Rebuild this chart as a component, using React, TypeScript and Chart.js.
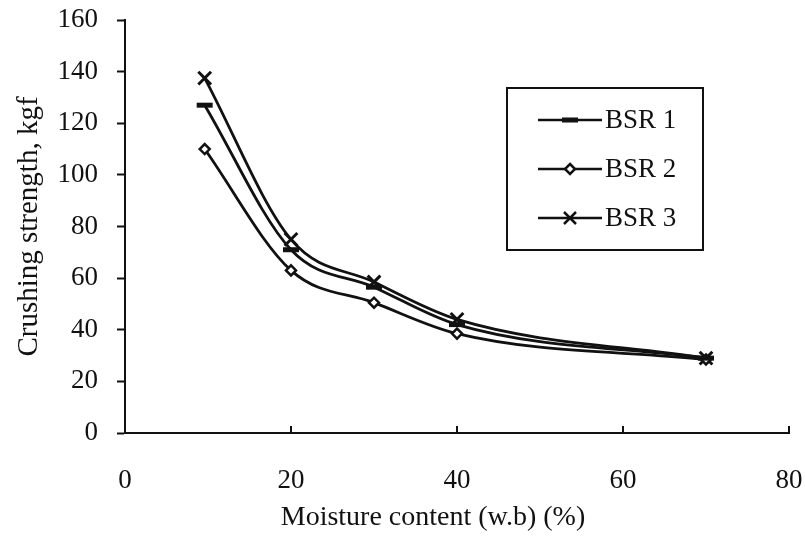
import React, { useEffect, useRef } from 'react';
import { Chart, registerables } from 'chart.js';

Chart.register(...registerables);

const FONT = '"Liberation Serif", "Times New Roman", Times, serif';
const INK = '#111111';

const moisture = [9.6, 20, 30, 40, 70];
const bsr1 = [127, 71, 56.5, 42, 29];
const bsr2 = [110, 63, 50.5, 38.5, 28.5];
const bsr3 = [137.5, 75, 58.5, 44, 29];
const seriesLabels = ['BSR 1', 'BSR 2', 'BSR 3'];
const xTicks = [0, 20, 40, 60, 80];
const yTicks = [0, 20, 40, 60, 80, 100, 120, 140, 160];
const xTitle = 'Moisture content (w.b) (%)';
const yTitle = 'Crushing strength, kgf';

function drawMarker(ctx: CanvasRenderingContext2D, style: string, x: number, y: number) {
  ctx.save();
  ctx.strokeStyle = INK;
  ctx.fillStyle = INK;
  if (style === 'line') {
    ctx.fillRect(x - 8, y - 2.5, 16, 5);
  } else if (style === 'rectRot') {
    ctx.lineWidth = 2.5;
    ctx.beginPath();
    ctx.moveTo(x, y - 5);
    ctx.lineTo(x + 5, y);
    ctx.lineTo(x, y + 5);
    ctx.lineTo(x - 5, y);
    ctx.closePath();
    ctx.fillStyle = '#fff';
    ctx.fill();
    ctx.stroke();
  } else if (style === 'crossRot') {
    ctx.lineWidth = 2.5;
    ctx.beginPath();
    ctx.moveTo(x - 6, y - 6);
    ctx.lineTo(x + 6, y + 6);
    ctx.moveTo(x + 6, y - 6);
    ctx.lineTo(x - 6, y + 6);
    ctx.stroke();
  }
  ctx.restore();
}

export default function App() {
  const ref = useRef<HTMLCanvasElement>(null);

  useEffect(() => {
    if (!ref.current) return;

    const boxLegend = {
      id: 'boxLegend',
      afterDraw(chart: any) {
        const ctx: CanvasRenderingContext2D = chart.ctx;
        ctx.save();
        ctx.strokeStyle = INK;
        ctx.lineWidth = 2;
        ctx.strokeRect(507, 88, 196, 162);
        chart.data.datasets.forEach((ds: any, i: number) => {
          const y = 120 + i * 49;
          ctx.strokeStyle = INK;
          ctx.lineWidth = 2.5;
          ctx.beginPath();
          ctx.moveTo(538, y);
          ctx.lineTo(602, y);
          ctx.stroke();
          drawMarker(ctx, ds.pointStyle, 570, y);
          ctx.fillStyle = INK;
          ctx.font = `27px ${FONT}`;
          ctx.textAlign = 'left';
          ctx.textBaseline = 'middle';
          ctx.fillText(ds.label, 605, y + 1);
        });
        ctx.restore();
      },
    };

    const extras = {
      id: 'extras',
      afterDraw(chart: any) {
        const ctx: CanvasRenderingContext2D = chart.ctx;
        const xs = chart.scales.x;
        const bottom = chart.chartArea.bottom;
        ctx.save();
        ctx.strokeStyle = INK;
        ctx.lineWidth = 2;
        xTicks.forEach((v) => {
          if (v === 0) return;
          const px = xs.getPixelForValue(v);
          ctx.beginPath();
          ctx.moveTo(px, bottom);
          ctx.lineTo(px, bottom - 7);
          ctx.stroke();
        });
        ctx.fillStyle = INK;
        ctx.font = `28px ${FONT}`;
        ctx.textAlign = 'center';
        ctx.textBaseline = 'middle';
        ctx.fillText(xTitle, 433, 518);
        ctx.restore();
      },
    };

    const mk = (arr: number[]) => moisture.map((x, i) => ({ x, y: arr[i] }));

    const chart = new Chart(ref.current, {
      type: 'line',
      data: {
        datasets: [
          {
            label: seriesLabels[0],
            data: mk(bsr1),
            borderColor: INK,
            backgroundColor: INK,
            borderWidth: 2.8,
            pointStyle: 'line',
            pointRadius: 8,
            pointBorderWidth: 5,
            cubicInterpolationMode: 'monotone',
          },
          {
            label: seriesLabels[1],
            data: mk(bsr2),
            borderColor: INK,
            backgroundColor: '#fff',
            borderWidth: 2.8,
            pointStyle: 'rectRot',
            pointRadius: 5,
            pointBorderWidth: 2.5,
            pointBackgroundColor: '#fff',
            cubicInterpolationMode: 'monotone',
          },
          {
            label: seriesLabels[2],
            data: mk(bsr3),
            borderColor: INK,
            backgroundColor: INK,
            borderWidth: 2.8,
            pointStyle: 'crossRot',
            pointRadius: 9,
            pointBorderWidth: 3,
            cubicInterpolationMode: 'monotone',
          },
        ] as any,
      },
      options: {
        animation: false,
        responsive: false,
        maintainAspectRatio: false,
        devicePixelRatio: 1,
        layout: { padding: { left: 0, right: 16, top: 20, bottom: 0 } },
        plugins: {
          legend: { display: false },
          tooltip: { enabled: false },
        },
        scales: {
          x: {
            type: 'linear',
            min: 0,
            max: 80,
            afterFit: (s: any) => { s.height = 109; s.paddingLeft = 0; s.paddingRight = 0; },
            afterBuildTicks: (s: any) => { s.ticks = xTicks.map((v) => ({ value: v })); },
            ticks: {
              color: INK,
              font: { family: FONT, size: 27 },
              padding: 32,
              maxRotation: 0,
            },
            grid: { display: true, drawOnChartArea: false, drawTicks: false },
            border: { display: true, color: INK, width: 2 },
            title: { display: false },
          },
          y: {
            type: 'linear',
            min: 0,
            max: 160,
            afterFit: (s: any) => { s.width = 125; s.paddingTop = 0; s.paddingBottom = 0; },
            afterBuildTicks: (s: any) => { s.ticks = yTicks.map((v) => ({ value: v })); },
            ticks: {
              color: INK,
              font: { family: FONT, size: 27 },
              padding: 19,
            },
            grid: {
              display: true,
              drawOnChartArea: false,
              drawTicks: true,
              tickLength: 8,
              tickWidth: 2,
              tickColor: INK,
            },
            border: { display: true, color: INK, width: 2 },
            title: {
              display: true,
              text: yTitle,
              color: INK,
              font: { family: FONT, size: 29 },
              padding: { top: 12, bottom: 0 },
            },
          },
        },
      } as any,
      plugins: [boxLegend, extras],
    });

    return () => chart.destroy();
  }, []);

  return (
    <div style={{ position: 'fixed', left: 0, top: 0, width: 805, height: 542, background: '#fff' }}>
      <canvas ref={ref} width={805} height={542} style={{ display: 'block', width: 805, height: 542 }} />
    </div>
  );
}
